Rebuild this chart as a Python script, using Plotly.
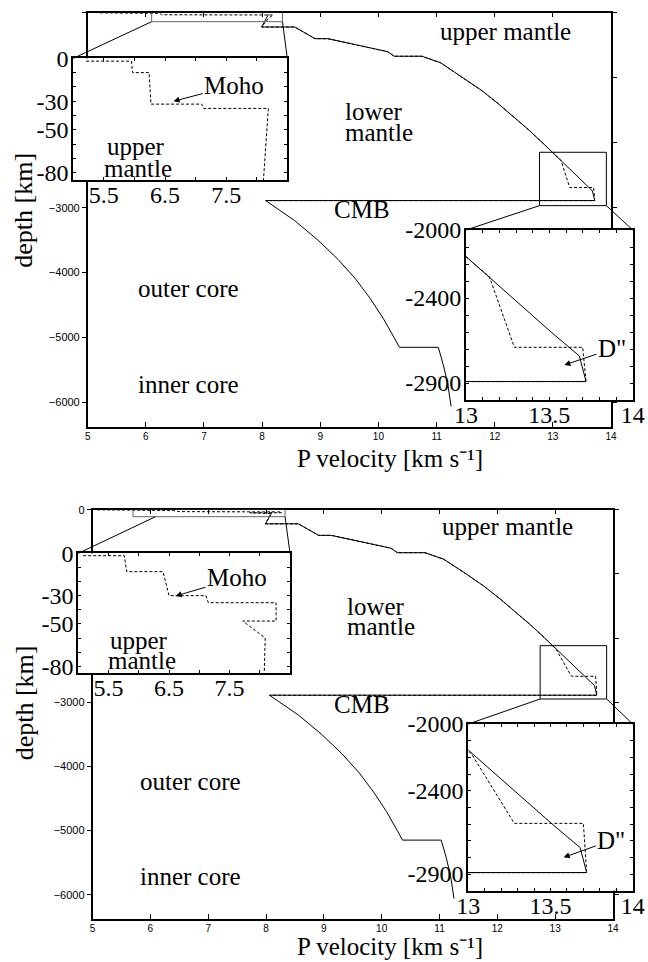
import plotly.graph_objects as go

W, H = 648, 962

# ---------------------------------------------------------------------------
# Data: P-wave velocity (km/s) against depth (km)
# ---------------------------------------------------------------------------
# PREM reference model, mantle and core
prem_depth = [24.4, 80, 220, 220, 400, 400, 600, 670, 670, 771, 1000, 1200,
              1400, 1600, 1800, 2000, 2200, 2400, 2600, 2741, 2891, 2891,
              3200, 3500, 3800, 4100, 4400, 4700, 5000, 5149.5, 5149.5,
              5400, 5700, 6060]
prem_vp = [8.11, 8.08, 7.99, 8.56, 8.91, 9.13, 10.16, 10.27, 10.75, 11.07,
           11.46, 11.78, 12.06, 12.33, 12.58, 12.82, 13.05, 13.28, 13.51,
           13.68, 13.72, 8.06, 8.56, 8.96, 9.31, 9.61, 9.86, 10.08, 10.27,
           10.36, 11.03, 11.11, 11.19, 11.25]

# upper panel model: crust and D'' layer
top_crust_depth = [2, 2, 10, 10, 32, 32, 35, 35, 85]
top_crust_vp = [5.21, 5.95, 5.97, 6.24, 6.27, 7.10, 7.13, 8.19, 8.11]
top_dpp_depth = [2274, 2690, 2690, 2892]
top_dpp_vp = [13.14, 13.29, 13.70, 13.72]

# lower panel model: crust and D'' layer
bot_crust_depth = [1.7, 1.7, 13, 13, 30, 30, 35, 35, 48, 48, 60, 85]
bot_crust_vp = [5.08, 5.76, 5.80, 6.40, 6.50, 7.11, 7.15, 8.27, 8.27, 7.72,
                8.09, 8.07]
bot_dpp_depth = [2180, 2596, 2596, 2892]
bot_dpp_vp = [13.02, 13.28, 13.70, 13.72]

# core-mantle boundary, top of the outer core
cmb_depth = [2892]
cmb_vp = [8.06]

# tick values / labels
main_xtick_vals = [5, 6, 7, 8, 9, 10, 11, 12, 13, 14]
main_ytick_vals = [0, -1000, -2000, -3000, -4000, -5000, -6000]
top_ytick_text = ["", "", "", "\u22123000", "\u22124000", "\u22125000", "\u22126000"]
bot_ytick_text = ["0", "", "", "\u22123000", "\u22124000", "\u22125000", "\u22126000"]
crust_xtick_vals = [5.0, 5.5, 6.0, 6.5, 7.0, 7.5, 8.0, 8.5]
crust_xtick_text = ["", "5.5", "", "6.5", "", "7.5", "", ""]
crust_ytick_vals = [0, -10, -20, -30, -40, -50, -60, -70, -80]
crust_ytick_text = ["0", "", "", "-30", "", "-50", "", "", "-80"]
dpp_xtick_vals = [13.0, 13.1, 13.2, 13.3, 13.4, 13.5, 13.6, 13.7, 13.8, 13.9, 14.0]
dpp_xtick_text = ["13", "", "", "", "", "13.5", "", "", "", "", "14"]
dpp_ytick_vals = [-2000, -2100, -2200, -2300, -2400, -2500, -2600, -2700,
                  -2800, -2900, -3000]
dpp_ytick_text = ["-2000", "", "", "", "-2400", "", "", "", "", "-2900", ""]

X_TITLE = "P velocity [km s\u207b\u00b9]"
Y_TITLE = "depth [km]"

# ---------------------------------------------------------------------------
# Layout geometry (pixels) and axis ranges
# ---------------------------------------------------------------------------
MAIN_X, MAIN_Y = [5, 14], [-6371, 0]
CRUST_X, CRUST_Y = [5, 8.5], [-85, 0]
DPP_X, DPP_Y = [13, 14], [-3000, -2000]

SERIF = "Liberation Serif"
SANS = "Liberation Sans"
LBL = 25
TICK_BIG = 24
TICK_SMALL = 10

panels = [
    dict(ids=("", "2", "3"),
         main=(87.7, 611.0, 12.7, 426.7),
         crust=(73.3, 287.3, 58.3, 180.0),
         dpp=(466.0, 632.7, 230.0, 400.0),
         ytext=top_ytick_text,
         crust_d=top_crust_depth, crust_v=top_crust_vp,
         dpp_d=top_dpp_depth, dpp_v=top_dpp_vp, mantle_end=17,
         box1=(6.10, 8.35, -138, 10), conn1_x=6.10,
         box2=(12.77, 13.92, -2969, -2148),
         text=dict(upper=(505.7, 31.7), lower=(343.3, 111.7), mantle=(343.3, 133.0),
                   cmb=(362.0, 210.0), outer=(188.8, 288.3), inner=(188.8, 384.0),
                   iu=(135.8, 146.7), im=(137.5, 168.3),
                   xt=(390.0, 458.0, "middle"), yt=(24.0, 210.7)),
         moho=((6.64, -30.0), (60.7, -16)), dpp_arrow=((13.59, -2794), (47.7, -16))),
    dict(ids=("4", "5", "6"),
         main=(92.5, 613.0, 509.7, 918.5),
         crust=(78.3, 290.0, 553.3, 673.3),
         dpp=(468.3, 632.7, 724.0, 890.7),
         ytext=bot_ytick_text,
         crust_d=bot_crust_depth, crust_v=bot_crust_vp,
         dpp_d=bot_dpp_depth, dpp_v=bot_dpp_vp, mantle_end=16,
         box1=(5.70, 8.33, -109, 5), conn1_x=6.09,
         box2=(12.74, 13.89, -2950, -2119),
         text=dict(upper=(507.2, 526.7), lower=(345.0, 606.7), mantle=(345.0, 626.7),
                   cmb=(362.0, 704.5), outer=(190.0, 781.8), inner=(190.0, 876.3),
                   iu=(139.0, 640.0), im=(141.7, 660.0),
                   xt=(390.0, 962.0, "bottom"), yt=(24.0, 703.3)),
         moho=((6.61, -30.2), (61.3, -18)), dpp_arrow=((13.58, -2800), (47.7, -17))),
]


def pdx(p):
    return p / W


def pdy(p):
    return 1 - p / H


def dom_x(g):
    return [pdx(g[0]), pdx(g[1])]


def dom_y(g):
    return [pdy(g[3]), pdy(g[2])]


def main_to_paper(g, vx, vy):
    px = g[0] + (vx - MAIN_X[0]) / (MAIN_X[1] - MAIN_X[0]) * (g[1] - g[0])
    py = g[3] - (vy - MAIN_Y[0]) / (MAIN_Y[1] - MAIN_Y[0]) * (g[3] - g[2])
    return pdx(px), pdy(py)


fig = go.Figure()
layout = dict(template="none", width=W, height=H,
              margin=dict(l=0, r=0, t=0, b=0, pad=0, autoexpand=False),
              paper_bgcolor="white", plot_bgcolor="white", showlegend=False)
annotations = []
shapes = []

solid = dict(color="black", width=1)
dashed = dict(color="black", width=1, dash="3px,2px")

for p in panels:
    m, c, d = p["ids"]
    alt_depth = p["crust_d"] + prem_depth[2:p["mantle_end"]] + p["dpp_d"] + cmb_depth
    alt_vp = p["crust_v"] + prem_vp[2:p["mantle_end"]] + p["dpp_v"] + cmb_vp
    prem_y = [-v for v in prem_depth]
    alt_y = [-v for v in alt_depth]

    # main profile
    fig.add_trace(go.Scatter(x=prem_vp, y=prem_y, mode="lines", line=solid,
                             xaxis="x" + m, yaxis="y" + m, hoverinfo="skip"))
    fig.add_trace(go.Scatter(x=alt_vp, y=alt_y, mode="lines", line=dashed,
                             xaxis="x" + m, yaxis="y" + m, hoverinfo="skip"))
    # crust close-up
    fig.add_trace(go.Scatter(x=alt_vp, y=alt_y, mode="lines", line=dashed,
                             xaxis="x" + c, yaxis="y" + c, hoverinfo="skip"))
    # D'' close-up
    fig.add_trace(go.Scatter(x=prem_vp, y=prem_y, mode="lines", line=solid,
                             xaxis="x" + d, yaxis="y" + d, hoverinfo="skip"))
    fig.add_trace(go.Scatter(x=alt_vp, y=alt_y, mode="lines", line=dashed,
                             xaxis="x" + d, yaxis="y" + d, hoverinfo="skip"))

    g = p["main"]
    layout["xaxis" + m] = dict(
        domain=dom_x(g), range=MAIN_X, anchor="y" + m, tickmode="array",
        tickvals=main_xtick_vals, ticks="inside", ticklen=5, mirror="allticks",
        showline=True, linecolor="black", linewidth=1.5, tickcolor="black",
        showgrid=False, zeroline=False, automargin=False,
        tickfont=dict(family=SANS, size=TICK_SMALL, color="black"))
    layout["yaxis" + m] = dict(
        domain=dom_y(g), range=MAIN_Y, anchor="x" + m, tickmode="array",
        tickvals=main_ytick_vals, ticktext=p["ytext"], ticks="outside", ticklen=4,
        mirror="allticks", showline=True, linecolor="black", linewidth=1.5,
        tickcolor="black", showgrid=False, zeroline=False, automargin=False,
        tickfont=dict(family=SANS, size=TICK_SMALL + 1, color="black"))

    for key, geo, xr, yr, xv, xt, yv, yt in (
            (c, p["crust"], CRUST_X, CRUST_Y, crust_xtick_vals, crust_xtick_text,
             crust_ytick_vals, crust_ytick_text),
            (d, p["dpp"], DPP_X, DPP_Y, dpp_xtick_vals, dpp_xtick_text,
             dpp_ytick_vals, dpp_ytick_text)):
        common = dict(showline=True, linecolor="black", linewidth=2, mirror="allticks",
                      ticks="inside", ticklen=3, tickcolor="black", showgrid=False,
                      zeroline=False, tickmode="array", automargin=False,
                      tickfont=dict(family=SERIF, size=TICK_BIG, color="black"))
        layout["xaxis" + key] = dict(domain=dom_x(geo), range=xr, anchor="y" + key,
                                     tickvals=xv, ticktext=xt, ticklabelstandoff=-8,
                                     **common)
        layout["yaxis" + key] = dict(domain=dom_y(geo), range=yr, anchor="x" + key,
                                     tickvals=yv, ticktext=yt, ticklabelstandoff=-2,
                                     **common)

    # zoom boxes on the main profile and connector lines to the close-ups
    for (x0, x1, y0, y1), col in ((p["box1"], "#666666"), (p["box2"], "black")):
        shapes.append(dict(type="rect", xref="x" + m, yref="y" + m, x0=x0, x1=x1,
                           y0=y0, y1=y1, line=dict(color=col, width=1), layer="above"))
    bx = p["box1"]
    cg = p["crust"]
    for (vx, vy), (tx, ty) in (((p["conn1_x"], bx[2]), (cg[0], cg[2])),
                               ((bx[1], bx[2]), (cg[1], cg[2]))):
        sx, sy = main_to_paper(g, vx, vy)
        shapes.append(dict(type="line", xref="paper", yref="paper", x0=sx, y0=sy,
                           x1=pdx(tx), y1=pdy(ty), line=dict(color="black", width=1)))
    bx = p["box2"]
    dg = p["dpp"]
    for (vx, vy), (tx, ty) in (((bx[0], bx[2]), (dg[0], dg[2])),
                               ((bx[1], bx[2]), (dg[1], dg[2]))):
        sx, sy = main_to_paper(g, vx, vy)
        shapes.append(dict(type="line", xref="paper", yref="paper", x0=sx, y0=sy,
                           x1=pdx(tx), y1=pdy(ty), line=dict(color="black", width=1)))

    # region labels
    t = p["text"]
    font = dict(family=SERIF, size=LBL, color="black")

    def label(txt, pos, anchor="center", angle=0, size=LBL, vanchor="middle"):
        annotations.append(dict(text=txt, x=pdx(pos[0]), y=pdy(pos[1]), xref="paper",
                                yref="paper", showarrow=False, xanchor=anchor,
                                yanchor=vanchor, textangle=angle,
                                font=dict(family=SERIF, size=size, color="black")))

    label("upper mantle", t["upper"])
    label("lower", t["lower"], "left")
    label("mantle", t["mantle"], "left")
    label("CMB", t["cmb"])
    label("outer core", t["outer"])
    label("inner core", t["inner"])
    label("upper", t["iu"])
    label("mantle", t["im"])
    xt = t["xt"]
    label(X_TITLE, xt[:2], size=25, vanchor=xt[2])
    label(Y_TITLE, t["yt"], angle=-90, size=26)

    (hx, hy), (ax, ay) = p["moho"]
    annotations.append(dict(text="Moho", x=hx, y=hy, xref="x" + c, yref="y" + c,
                            ax=ax, ay=ay, showarrow=True, arrowhead=2, arrowsize=1.2,
                            arrowwidth=1, arrowcolor="black", standoff=0, font=font))
    (hx, hy), (ax, ay) = p["dpp_arrow"]
    annotations.append(dict(text='D"', x=hx, y=hy, xref="x" + d, yref="y" + d,
                            ax=ax, ay=ay, showarrow=True, arrowhead=2, arrowsize=1.2,
                            arrowwidth=1, arrowcolor="black", standoff=0, font=font))

layout["annotations"] = annotations
layout["shapes"] = shapes
fig.update_layout(**layout)
fig.write_html("out.html")
